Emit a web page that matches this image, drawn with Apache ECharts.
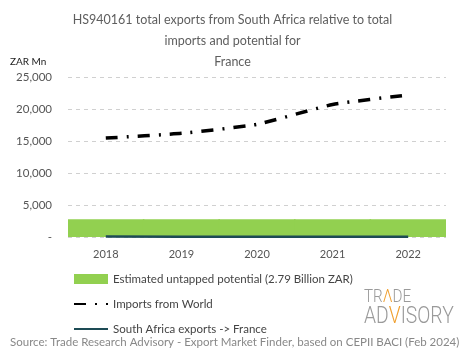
<!DOCTYPE html>
<html><head><meta charset="utf-8">
<script src="https://cdn.jsdelivr.net/npm/echarts@6/dist/echarts.min.js"></script>
<style>html,body{margin:0;padding:0;background:#fff}#c{width:465px;height:359px}</style>
</head><body><div id="c"></div>
<script>
const years = ['2018','2019','2020','2021','2022'];
const untapped = [2790, 2790, 2790, 2790, 2790];
const importsWorld = [15450, 16200, 17600, 20700, 22200];
const saExports = [60, 40, 20, 50, 40];
const yTicks = [0, 5000, 10000, 15000, 20000, 25000];

const chart = echarts.init(document.getElementById('c'));
const FONT = 'Lato';
chart.setOption({
  animation: false,
  textStyle: {fontFamily: FONT},
  title: {
    text: 'HS940161 total exports from South Africa relative to total\nimports and potential for\nFrance',
    left: 'center', top: 4,
    textStyle: {fontFamily: FONT, fontSize: 12.5, fontWeight: 'normal', color: '#5e5e5e', lineHeight: 21}
  },
  grid: {left: 68, right: 19, top: 77, bottom: 122},
  xAxis: {
    type: 'category', data: years, boundaryGap: true,
    axisLine: {show: false}, axisTick: {show: false},
    axisLabel: {color: '#555', fontSize: 11, margin: 12}
  },
  yAxis: {
    type: 'value', min: 0, max: 25000, interval: 5000,
    name: 'ZAR Mn', nameLocation: 'end', nameGap: 10,
    nameTextStyle: {color: '#222', fontSize: 10, align: 'left', padding: [0, 0, 0, -58]},
    axisLine: {show: false}, axisTick: {show: false},
    axisLabel: {color: '#555', fontSize: 11.5, margin: 16,
      formatter: v => v === 0 ? '-' : v.toLocaleString('en-US')},
    splitLine: {lineStyle: {color: '#d0d0d0', type: [4, 4]}}
  },
  legend: {
    orient: 'vertical', left: 68, top: 268, itemGap: 13,
    itemWidth: 34, itemHeight: 10,
    textStyle: {color: '#444', fontSize: 11.5},
    data: [
      {name: 'Estimated untapped potential (2.79 Billion ZAR)', icon: 'rect', itemStyle: {color: '#92d050'}},
      {name: 'Imports from World', itemStyle: {opacity: 0}},
      {name: 'South Africa exports -> France', itemStyle: {opacity: 0}}
    ]
  },
  series: [
    {name: 'Estimated untapped potential (2.79 Billion ZAR)', type: 'bar', data: untapped,
      barWidth: '102%', itemStyle: {color: '#92d050'}, z: 1},
    {name: 'Imports from World', type: 'line', data: importsWorld, symbol: 'none', smooth: 0.15,
      itemStyle: {color: '#000'},
      lineStyle: {color: '#000', width: 3.5, type: [12, 9, 2, 9], cap: 'butt'}, z: 3},
    {name: 'South Africa exports -> France', type: 'line', data: saExports, symbol: 'none',
      itemStyle: {color: '#1d4b55'},
      lineStyle: {color: '#1d4b55', width: 2.5}, z: 4}
  ],
  graphic: [
    {type: 'text', left: 10, top: 336, style: {text: 'Source: Trade Research Advisory - Export Market Finder, based on CEPII BACI (Feb 2024)', fill: '#888', font: '11.5px Lato'}},
    {type: 'text', x: 364, y: 288, scaleX: 0.8, style: {
      text: '{g|TR}{o|Λ}{g|DE}', verticalAlign: 'top', rich: {
        g: {fill: '#9a9a9a', font: '300 19px Roboto'},
        o: {fill: '#f0a030', font: '300 19px Roboto'}
      }}},
    {type: 'text', x: 364, y: 306, scaleX: 0.84, style: {
      text: '{g|AD}{o|V}{g|ISORY}', verticalAlign: 'top', rich: {
        g: {fill: '#9a9a9a', font: '300 23px Roboto'},
        o: {fill: '#f0a030', font: '300 23px Roboto'}
      }}}
  ]
});
</script></body></html>
